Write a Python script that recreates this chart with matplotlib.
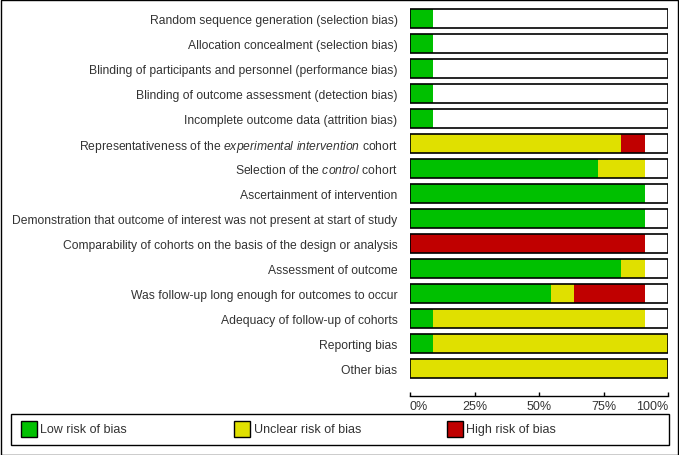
import matplotlib
matplotlib.use('Agg')
import matplotlib.pyplot as plt
from matplotlib.patches import Rectangle

plt.rcParams['font.family'] = 'Liberation Sans'
plt.rcParams['mathtext.fontset'] = 'custom'
plt.rcParams['mathtext.rm'] = 'Liberation Sans'
plt.rcParams['mathtext.it'] = 'Liberation Sans:italic'

# risk of bias domains (top to bottom)
domains = [
    'Random sequence generation (selection bias)',
    'Allocation concealment (selection bias)',
    'Blinding of participants and personnel (performance bias)',
    'Blinding of outcome assessment (detection bias)',
    'Incomplete outcome data (attrition bias)',
    r'Representativeness of the $\it{experimental\ intervention}$ cohort',
    r'Selection of the $\it{control}$ cohort',
    'Ascertainment of intervention',
    'Demonstration that outcome of interest was not present at start of study',
    'Comparability of cohorts on the basis of the design or analysis',
    'Assessment of outcome',
    'Was follow-up long enough for outcomes to occur',
    'Adequacy of follow-up of cohorts',
    'Reporting bias',
    'Other bias',
]
n_studies = 11
low     = [1, 1, 1, 1, 1, 0, 8, 10, 10, 0, 9, 6, 1, 1, 0]
unclear = [0, 0, 0, 0, 0, 9, 2, 0, 0, 0, 1, 1, 9, 10, 11]
high    = [0, 0, 0, 0, 0, 1, 0, 0, 0, 10, 0, 3, 0, 0, 0]

categories = ['Low risk of bias', 'Unclear risk of bias', 'High risk of bias']
colors = ['#00C000', '#E0E000', '#C00000']
ticks = [0, 25, 50, 75, 100]
tick_labels = ['0%', '25%', '50%', '75%', '100%']

W, H = 679, 456
fig = plt.figure(figsize=(W/100, H/100), dpi=100)

def fx(px): return px / W
def fy(py): return 1 - py / H

ax = fig.add_axes([fx(410), fy(382), fx(668) - fx(410), fy(7) - fy(382)])
rows = range(len(domains))
pct = lambda v: [x * 100.0 / n_studies for x in v]
lo, un, hi = pct(low), pct(unclear), pct(high)
left_un = lo
left_hi = [a + b for a, b in zip(lo, un)]

bh = 0.76
ax.barh(rows, [100]*len(domains), height=bh, color='white', edgecolor='none')
ax.barh(rows, lo, height=bh, color=colors[0], edgecolor='none')
ax.barh(rows, un, left=left_un, height=bh, color=colors[1], edgecolor='none')
ax.barh(rows, hi, left=left_hi, height=bh, color=colors[2], edgecolor='none')
ax.barh(rows, [100]*len(domains), height=bh, color='none', edgecolor='black', linewidth=1.2)

ax.set_xlim(0, 100)
ax.set_ylim(len(domains) - 0.5, -0.5)
ax.set_yticks(list(rows))
ax.set_yticklabels(domains, color='#333333', fontsize=8.7)
ax.tick_params(axis='y', length=0, pad=9)
for s in ['top', 'right', 'left']:
    ax.spines[s].set_visible(False)
ax.spines['bottom'].set_position(('outward', 11))
ax.spines['bottom'].set_linewidth(1)
ax.set_xticks(ticks)
ax.set_xticklabels(tick_labels, fontsize=9, color='#333333')
ax.tick_params(axis='x', direction='in', length=3, width=1, pad=3)
xl = ax.get_xticklabels()
xl[0].set_ha('left')
xl[-1].set_ha('right')
ax.patch.set_visible(False)

# outer frame and legend box
fig.add_artist(Rectangle((fx(0.5), fy(455.5)), fx(677.5), fy(0.5) - fy(455.5),
                         transform=fig.transFigure, fill=False, edgecolor='black', lw=1))
fig.add_artist(Rectangle((fx(10.5), fy(446)), fx(669) - fx(10.5), fy(415) - fy(446),
                         transform=fig.transFigure, fill=False, edgecolor='black', lw=1))
for xs, lab, c in zip([20.5, 233.5, 446.5], categories, colors):
    fig.add_artist(Rectangle((fx(xs), fy(438)), fx(16), fy(422) - fy(438),
                             transform=fig.transFigure, facecolor=c, edgecolor='black', lw=1))
    fig.text(fx(xs + 20), fy(430.5), lab, fontsize=9, color='#333333', va='center', ha='left')

fig.savefig('out.png', dpi=100)
